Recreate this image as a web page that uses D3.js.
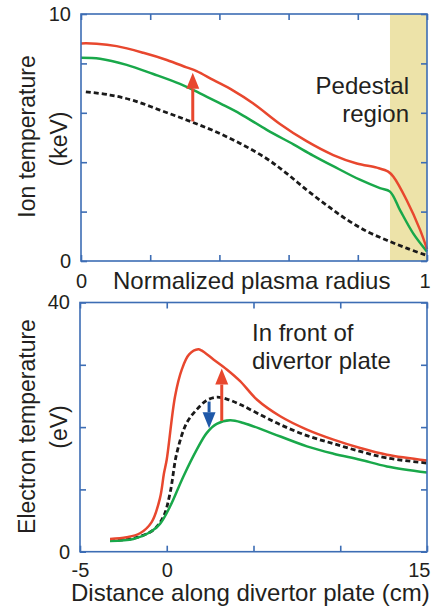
<!DOCTYPE html>
<html>
<head>
<meta charset="utf-8">
<script src="https://cdn.jsdelivr.net/npm/d3@7"></script>
<style>
  html, body { margin: 0; padding: 0; background: #fff; }
  svg { display: block; }
  text { font-family: "Liberation Sans", Arial, Helvetica, sans-serif; fill: #231f20; }
</style>
</head>
<body>
<div id="chart"></div>
<script>
// ---------- DATA ----------
// Top panel: ion temperature (keV) vs normalized plasma radius
const topRadiusRed   = [0, 0.045, 0.103, 0.180, 0.248, 0.305, 0.334, 0.382, 0.440, 0.498, 0.575, 0.652, 0.729, 0.797, 0.855, 0.888, 0.903, 0.941, 0.980, 1.0];
const topIonRed      = [8.81, 8.80, 8.70, 8.43, 8.14, 7.84, 7.69, 7.33, 6.90, 6.38, 5.55, 4.85, 4.29, 3.95, 3.78, 3.62, 3.41, 2.47, 1.26, 0.48];
const topRadiusGreen = [0, 0.055, 0.132, 0.209, 0.286, 0.344, 0.402, 0.460, 0.537, 0.614, 0.671, 0.729, 0.806, 0.864, 0.893, 0.922, 0.960, 1.0];
const topIonGreen    = [8.23, 8.19, 7.94, 7.57, 7.17, 6.79, 6.38, 5.96, 5.31, 4.72, 4.27, 3.84, 3.29, 2.95, 2.81, 2.06, 1.12, 0.38];
const topRadiusBlack = [0.014, 0.084, 0.151, 0.228, 0.305, 0.382, 0.460, 0.537, 0.594, 0.652, 0.710, 0.768, 0.826, 0.884, 0.941, 1.0];
const topIonBlack    = [6.85, 6.72, 6.50, 6.11, 5.71, 5.28, 4.76, 4.14, 3.55, 2.88, 2.26, 1.68, 1.20, 0.84, 0.52, 0.22];
const pedestalRange  = [0.893, 1.0];
const topArrow       = { x: 0.323, from: 5.65, to: 7.62 };
const topXTicks      = [0, 0.2, 0.4, 0.6, 0.8, 1];
const topXTickLabels = ["0", "", "", "", "", "1"];
const topYTicks      = [0, 2, 4, 6, 8, 10];
const topYTickLabels = ["0", "", "", "", "", "10"];

// Bottom panel: electron temperature (eV) vs distance along divertor plate (cm)
const botDistRed    = [-3.27, -2.31, -1.54, -0.87, -0.39, -0.16, 0, 0.48, 0.87, 1.29, 1.82, 2.0, 2.69, 3.46, 4.23, 5.19, 6.54, 8.08, 9.61, 11.15, 12.69, 15];
const botTeRed      = [2.04, 2.31, 2.96, 4.75, 8.6, 12.6, 14.8, 24.96, 29.26, 31.67, 32.48, 32.3, 30.87, 29.26, 27.38, 24.43, 21.74, 19.60, 17.99, 16.65, 15.57, 14.65];
const botDistGreen  = [-3.27, -1.92, -0.96, -0.39, 0.19, 0.96, 1.73, 2.31, 2.88, 3.65, 4.42, 5.77, 8.08, 9.61, 11.15, 12.69, 15];
const botTeGreen    = [1.72, 2.04, 3.12, 4.46, 7.25, 12.08, 16.38, 19.07, 20.51, 21.10, 20.67, 19.32, 16.91, 15.73, 14.77, 13.69, 12.72];
const botDistBlack  = [-3.27, -1.92, -0.77, -0.19, 0.19, 0.58, 1.15, 1.73, 2.31, 2.88, 3.46, 4.23, 5.19, 6.54, 8.08, 9.61, 11.15, 12.69, 15];
const botTeBlack    = [1.77, 2.15, 3.49, 5.64, 9.40, 15.84, 20.67, 22.82, 24.3, 24.8, 24.5, 23.62, 22.28, 20.40, 18.63, 17.34, 16.10, 15.04, 14.23];
const botArrowUp    = { x: 3.17, from: 21.0, to: 29.4 };
const botArrowDown  = { x: 2.44, from: 24.1, to: 19.8 };
const botXTicks      = [-5, 0, 5, 10, 15];
const botXTickLabels = ["-5", "0", "", "", "15"];
const botYTicks      = [0, 10, 20, 30, 40];
const botYTickLabels = ["0", "", "", "", "40"];

// ---------- STYLE ----------
const RED = "#e8472e", GREEN = "#19a84a", BLACK = "#1a1a1a", AXIS = "#3d6db4", BLUE = "#1f58a8", SHADE = "#ede3a9";

const W = 444, H = 608;
const svg = d3.select("#chart").append("svg").attr("width", W).attr("height", H);

const xT = d3.scaleLinear().domain([0, 1]).range([81, 427]);
const yT = d3.scaleLinear().domain([0, 10]).range([261, 14]);
const xB = d3.scaleLinear().domain([-5, 15]).range([80, 427]);
const yB = d3.scaleLinear().domain([0, 40]).range([551.7, 302.5]);

function zip(xs, ys) { return xs.map((x, i) => [x, ys[i]]); }

function drawLine(g, x, y, pts, color, width, dash) {
  const line = d3.line().x(d => x(d[0])).y(d => y(d[1])).curve(d3.curveCatmullRom.alpha(0.5));
  g.append("path").attr("d", line(pts)).attr("fill", "none")
    .attr("stroke", color).attr("stroke-width", width)
    .attr("stroke-linejoin", "round")
    .attr("stroke-dasharray", dash || null);
}

function drawArrow(g, x, y, a, color) {
  const px = x(a.x), y0 = y(a.from), y1 = y(a.to);
  const dir = y1 < y0 ? 1 : -1; // 1 = pointing up
  const headLen = 16, headHalf = 6.5;
  const base = y1 + dir * headLen;
  g.append("line").attr("x1", px).attr("x2", px).attr("y1", y0).attr("y2", base)
    .attr("stroke", color).attr("stroke-width", 3);
  g.append("path")
    .attr("d", `M${px},${y1} L${px - headHalf},${base} L${px + headHalf},${base} Z`)
    .attr("fill", color);
}

function drawFrame(g, x, y, xTicks, xLabels, yTicks, yLabels, xPad) {
  const [x0, x1] = x.range(), [y0, y1] = y.range();
  const fmt = (ticks, labels) => v => labels[ticks.indexOf(v)];
  const left = g.append("g").attr("transform", `translate(${x0},0)`)
    .call(d3.axisLeft(y).tickValues(yTicks).tickSize(-6).tickPadding(10).tickFormat(fmt(yTicks, yLabels)));
  const right = g.append("g").attr("transform", `translate(${x1},0)`)
    .call(d3.axisRight(y).tickValues(yTicks).tickSize(-6).tickFormat(""));
  const top = g.append("g").attr("transform", `translate(0,${y1})`)
    .call(d3.axisTop(x).tickValues(xTicks).tickSize(-6).tickFormat(""));
  const bottom = g.append("g").attr("transform", `translate(0,${y0})`)
    .call(d3.axisBottom(x).tickValues(xTicks).tickSize(-6).tickPadding(xPad).tickFormat(fmt(xTicks, xLabels)));
  [left, right, top, bottom].forEach(a => {
    a.select(".domain").remove();
    a.selectAll("line").attr("stroke", AXIS).attr("stroke-width", 1.6);
    a.selectAll("text").attr("font-size", 20).attr("fill", "#231f20")
      .attr("font-family", '"Liberation Sans", Arial, Helvetica, sans-serif');
  });
  bottom.selectAll(".tick").filter(d => d === xTicks[xTicks.length - 1])
    .select("text").attr("text-anchor", "end").attr("x", 3);
  g.append("rect").attr("x", x0).attr("y", y1).attr("width", x1 - x0).attr("height", y0 - y1)
    .attr("fill", "none").attr("stroke", AXIS).attr("stroke-width", 1.6);
}

// ---------- TOP PANEL ----------
const gT = svg.append("g");
gT.append("rect")
  .attr("x", xT(pedestalRange[0])).attr("y", yT(10))
  .attr("width", xT(pedestalRange[1]) - xT(pedestalRange[0]))
  .attr("height", yT(0) - yT(10)).attr("fill", SHADE);
drawLine(gT, xT, yT, zip(topRadiusBlack, topIonBlack), BLACK, 2.8, "5,3");
drawLine(gT, xT, yT, zip(topRadiusGreen, topIonGreen), GREEN, 2.5);
drawLine(gT, xT, yT, zip(topRadiusRed, topIonRed), RED, 2.5);
drawArrow(gT, xT, yT, topArrow, RED);
drawFrame(gT, xT, yT, topXTicks, topXTickLabels, topYTicks, topYTickLabels, 13);

gT.append("text").attr("x", 409).attr("y", 94.3).attr("text-anchor", "end").attr("font-size", 24).text("Pedestal");
gT.append("text").attr("x", 409).attr("y", 122).attr("text-anchor", "end").attr("font-size", 24).text("region");
gT.append("text").attr("x", 113).attr("y", 289.3).attr("font-size", 24).text("Normalized plasma radius");
gT.append("text").attr("transform", "translate(35,136.5) rotate(-90)").attr("text-anchor", "middle").attr("font-size", 23).text("Ion temperature");
gT.append("text").attr("transform", "translate(66.5,139) rotate(-90)").attr("text-anchor", "middle").attr("font-size", 23).text("(keV)");

// ---------- BOTTOM PANEL ----------
const gB = svg.append("g");
drawLine(gB, xB, yB, zip(botDistBlack, botTeBlack), BLACK, 2.8, "5,3");
drawLine(gB, xB, yB, zip(botDistGreen, botTeGreen), GREEN, 2.5);
drawLine(gB, xB, yB, zip(botDistRed, botTeRed), RED, 2.5);
drawArrow(gB, xB, yB, botArrowUp, RED);
drawArrow(gB, xB, yB, botArrowDown, BLUE);
drawFrame(gB, xB, yB, botXTicks, botXTickLabels, botYTicks, botYTickLabels, 11);

gB.append("text").attr("x", 252).attr("y", 340.7).attr("font-size", 24).text("In front of");
gB.append("text").attr("x", 252).attr("y", 369.3).attr("font-size", 24).text("divertor plate");
gB.append("text").attr("x", 71).attr("y", 601).attr("font-size", 24).text("Distance along divertor plate (cm)");
gB.append("text").attr("transform", "translate(35,426.5) rotate(-90)").attr("text-anchor", "middle").attr("font-size", 23).text("Electron temperature");
gB.append("text").attr("transform", "translate(66.5,427) rotate(-90)").attr("text-anchor", "middle").attr("font-size", 23).text("(eV)");
</script>
</body>
</html>
